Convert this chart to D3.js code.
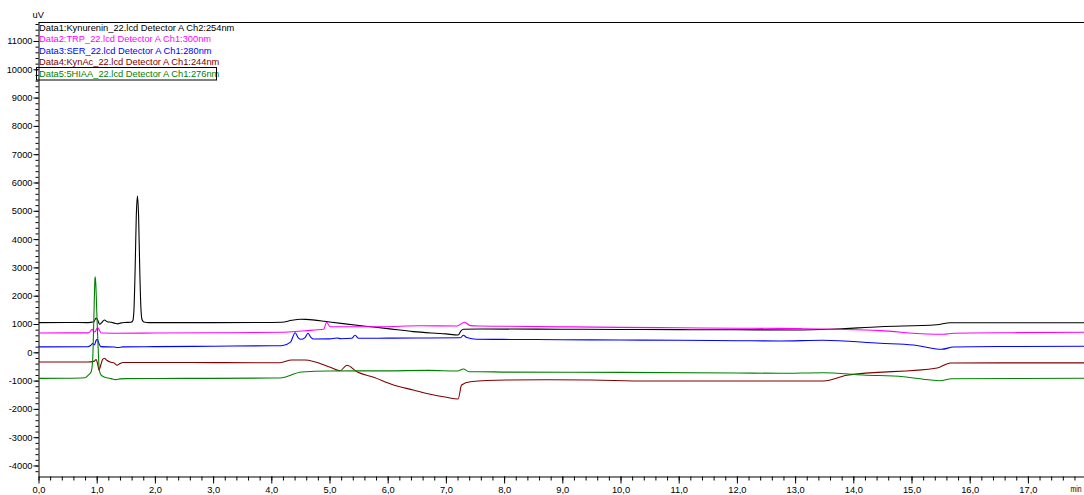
<!DOCTYPE html>
<html>
<head>
<meta charset="utf-8">
<script src="https://cdn.jsdelivr.net/npm/d3@7"></script>
<style>
  body { margin: 0; background: #fff; }
  svg { display: block; font-family: "Liberation Sans", Arial, sans-serif; }
</style>
</head>
<body>
<div id="chromatogram"></div>
<script>
// [time (min), signal (uV)]
const kynurenin = [
  [0, 1050], [0.5, 1055], [0.85, 1050], [0.95, 1080], [0.99, 1210], [1.02, 1120], [1.05, 990],
  [1.09, 1060], [1.13, 1140], [1.18, 1080], [1.25, 1060], [1.32, 1020], [1.36, 1005], [1.42, 1040],
  [1.48, 1055], [1.59, 1060], [1.62, 1110], [1.64, 1500], [1.66, 2900], [1.68, 4800], [1.70, 5520],
  [1.72, 4800], [1.74, 2900], [1.76, 1550], [1.78, 1150], [1.81, 1070], [1.9, 1050], [3.0, 1050],
  [4.0, 1055], [4.18, 1060], [4.35, 1130], [4.5, 1170], [4.6, 1165], [5.0, 1070], [5.58, 930],
  [6.0, 835], [6.44, 730], [7.0, 650], [7.21, 612], [7.26, 760], [7.3, 815], [7.6, 823], [9.0, 815],
  [10.0, 808], [11.0, 800], [12.0, 795], [13.09, 790], [13.6, 813], [14.46, 905], [15.43, 975],
  [15.67, 1046], [16.5, 1046], [18, 1046]
];
const trp = [
  [0, 680], [0.5, 685], [0.85, 685], [0.88, 720], [0.92, 810], [0.95, 740], [0.97, 720], [1.0, 830],
  [1.02, 870], [1.05, 760], [1.08, 680], [1.3, 675], [2.0, 680], [3.0, 690], [4.15, 707], [4.58, 763],
  [4.9, 813], [4.95, 1060], [5.01, 905], [5.87, 905], [6.56, 940], [7.19, 930], [7.32, 1060],
  [7.42, 943], [7.59, 930], [8.05, 920], [9.0, 900], [10.0, 880], [11.0, 865], [12.0, 850],
  [12.74, 845], [13.09, 835], [13.7, 813], [14.46, 767], [15.26, 647], [15.55, 636], [15.72, 671],
  [16.75, 693], [18, 707]
];
const ser = [
  [0, 190], [0.85, 195], [0.9, 250], [0.93, 310], [0.96, 260], [0.99, 420], [1.01, 460], [1.04, 300],
  [1.07, 200], [1.3, 185], [1.36, 170], [1.45, 190], [2.0, 200], [3.0, 215], [4.0, 230], [4.18, 233],
  [4.33, 360], [4.41, 693], [4.46, 520], [4.51, 459], [4.58, 520], [4.63, 671], [4.68, 530],
  [4.73, 470], [5.0, 475], [5.13, 505], [5.2, 480], [5.38, 495], [5.44, 601], [5.5, 495], [6.0, 500],
  [6.5, 505], [7.25, 516], [7.30, 601], [7.36, 520], [7.53, 459], [8.0, 455], [9.0, 445],
  [10.0, 435], [11.0, 425], [12.0, 410], [12.74, 400], [13.48, 424], [14.46, 318], [15.03, 258],
  [15.52, 106], [15.72, 187], [16.5, 205], [18, 212]
];
const kynac = [
  [0, -345], [0.85, -345], [0.95, -320], [0.99, -260], [1.02, -450], [1.04, -640], [1.07, -450],
  [1.1, -260], [1.13, -212], [1.18, -290], [1.23, -345], [1.3, -380], [1.35, -460], [1.4, -400],
  [1.45, -360], [2.0, -360], [3.0, -365], [4.0, -368], [4.15, -368], [4.35, -272], [4.58, -272],
  [5.0, -520], [5.18, -650], [5.3, -459], [5.47, -686], [5.76, -884], [6.10, -1156], [6.44, -1332],
  [6.73, -1484], [7.01, -1590], [7.21, -1650], [7.27, -1156], [7.42, -1039], [8.05, -979],
  [8.73, -968], [9.5, -980], [10.45, -1015], [12.74, -1015], [13.49, -1015], [13.89, -813],
  [15.44, -555], [15.67, -378], [16.5, -375], [18, -375]
];
const hiaa = [
  [0, -920], [0.5, -915], [0.8, -898], [0.86, -802], [0.905, -686], [0.93, -300], [0.95, 1100],
  [0.97, 2600], [0.975, 2672], [0.985, 2400], [1.0, 1500], [1.02, 400], [1.04, -500], [1.06, -750],
  [1.09, -830], [1.17, -900], [1.25, -930], [1.32, -965], [1.4, -940], [1.5, -930], [2.0, -925],
  [3.0, -920], [4.0, -910], [4.15, -908], [4.52, -695], [5.0, -660], [6.0, -655], [6.7, -640],
  [7.2, -660], [7.30, -590], [7.4, -685], [7.59, -686], [8.05, -700], [10.0, -710], [12.0, -730],
  [12.74, -742], [13.48, -721], [14.17, -802], [14.86, -862], [15.49, -1004], [15.69, -933],
  [18, -919]
];

const legendLabels = [
  'Data1:Kynurenin_22.lcd Detector A Ch2:254nm',
  'Data2:TRP_22.lcd Detector A Ch1:300nm',
  'Data3:SER_22.lcd Detector A Ch1:280nm',
  'Data4:KynAc_22.lcd Detector A Ch1:244nm',
  'Data5:5HIAA_22.lcd Detector A Ch1:276nm'
];
const yTicks = d3.range(-4000, 11001, 1000);
const xTicks = d3.range(0, 18, 1);

const traces = [kynurenin, trp, ser, kynac, hiaa];
const colors = ['#000000', '#ff00ff', '#0000ff', '#800000', '#008000'];

let svgDimensions = [1084, 495];
let svg = d3.select('#chromatogram')
  .append('svg')
    .attr('width', svgDimensions[0])
    .attr('height', svgDimensions[1]);

let x = d3.scaleLinear()
  .domain([0, 18])
  .range([38.5, 38.5 + 18 * 58.2]);
let y = d3.scaleLinear()
  .domain([-4371, 11671])
  .range([476, 22]);

const fontSize = '9.3px';

svg.append('defs')
  .append('clipPath')
    .attr('id', 'plot-clip')
  .append('rect')
    .attr('x', 38.5)
    .attr('y', 22)
    .attr('width', svgDimensions[0] - 38.5)
    .attr('height', 454);

// minor ticks
svg.append('g')
  .attr('transform', 'translate(38.5,0)')
  .call(d3.axisLeft(y).tickValues(d3.range(-4200, 11601, 200)).tickSize(3).tickFormat('').tickSizeOuter(0))
  .call(g => g.select('.domain').remove());
svg.append('g')
  .attr('transform', 'translate(0,476.5)')
  .call(d3.axisBottom(x).tickValues(d3.range(0, 18, 0.2)).tickSize(4).tickFormat('').tickSizeOuter(0))
  .call(g => g.select('.domain').remove());

let yAxis = svg.append('g')
  .attr('transform', 'translate(38.5,0)')
  .call(d3.axisLeft(y)
    .tickValues(yTicks)
    .tickSize(5)
    .tickPadding(1)
    .tickSizeOuter(0)
    .tickFormat((d) => `${d}`));
yAxis.selectAll('text')
  .attr('font-size', fontSize)
  .attr('font-family', '"Liberation Sans", Arial, sans-serif')
  .attr('fill', '#000');

let xAxis = svg.append('g')
  .attr('transform', 'translate(0,476.5)')
  .call(d3.axisBottom(x)
    .tickValues(xTicks)
    .tickSize(7)
    .tickPadding(2.5)
    .tickSizeOuter(0)
    .tickFormat((d) => d3.format('.1f')(d).replace('.', ',')));
xAxis.selectAll('text')
  .attr('font-size', fontSize)
  .attr('font-family', '"Liberation Sans", Arial, sans-serif')
  .attr('fill', '#000');

svg.append('line')
  .attr('x1', 38.5)
  .attr('x2', svgDimensions[0])
  .attr('y1', 22.5)
  .attr('y2', 22.5)
  .attr('stroke', '#000');

svg.append('text')
  .attr('x', 32.5)
  .attr('y', 18.3)
  .attr('font-size', fontSize)
  .text('uV');
svg.append('text')
  .attr('x', 1070.5)
  .attr('y', 492.3)
  .attr('font-size', fontSize)
  .attr('textLength', 11)
  .attr('lengthAdjust', 'spacingAndGlyphs')
  .text('min');

let line = d3.line()
  .x((d) => x(d[0]))
  .y((d) => y(d[1]))
  .curve(d3.curveMonotoneX);

svg.append('g')
  .attr('clip-path', 'url(#plot-clip)')
  .selectAll('path')
  .data(traces)
  .enter()
  .append('path')
    .attr('d', (d) => line(d))
    .attr('fill', 'none')
    .attr('stroke', (d, i) => colors[i])
    .attr('stroke-width', 1.1)
    .attr('stroke-linejoin', 'round');

let legend = svg.append('g');
legend.selectAll('text')
  .data(legendLabels)
  .enter()
  .append('text')
    .attr('x', 39)
    .attr('y', (d, i) => 30.7 + i * 11.5)
    .attr('font-size', fontSize)
    .attr('fill', (d, i) => colors[i])
    .text((d) => d);

legend.append('rect')
  .attr('x', 36.5)
  .attr('y', 67.5)
  .attr('width', 180)
  .attr('height', 12.5)
  .attr('fill', 'none')
  .attr('stroke', '#000');
</script>
</body>
</html>
